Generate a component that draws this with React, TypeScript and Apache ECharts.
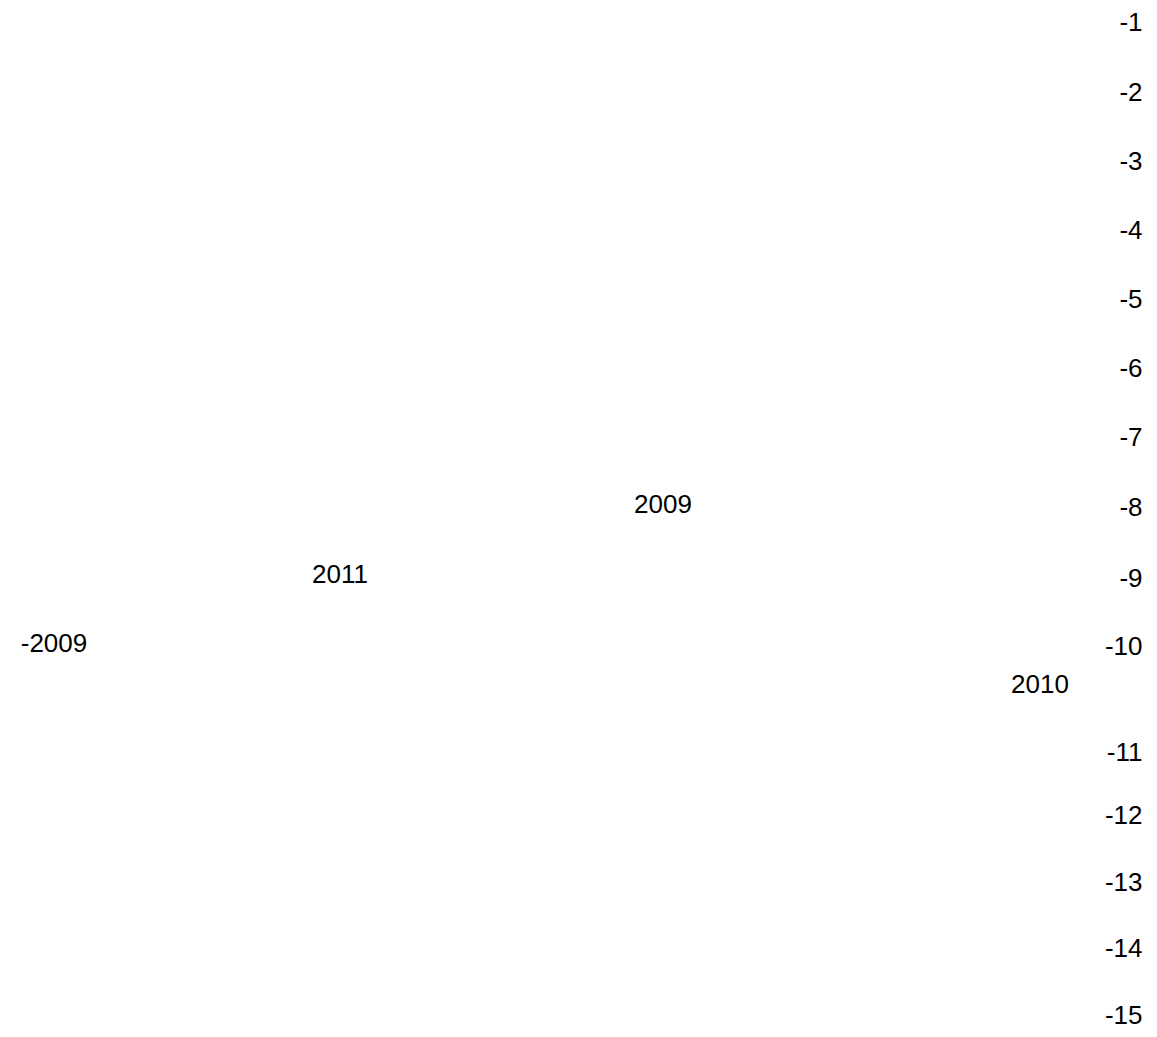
import React, { useEffect, useRef } from "react";
import * as echarts from "echarts";

// Right-hand column of labels
const rankLabels = ["-1", "-2", "-3", "-4", "-5", "-6", "-7", "-8", "-9", "-10", "-11", "-12", "-13", "-14", "-15"];
const rankY = [22, 92, 161, 230, 299, 368, 437, 507, 578, 646, 752, 815, 882, 948, 1015];
const rankX = 1143;

// Year labels scattered in the plot
const yearLabels = ["2009", "2011", "-2009", "2010"];
const yearX = [663, 340, 54, 1040];
const yearY = [504, 574, 643, 684];

const FONT = "Liberation Sans, Arial, sans-serif";
const FONT_SIZE = 26;

export default function App() {
  const ref = useRef<HTMLDivElement>(null);
  useEffect(() => {
    document.body.style.margin = "0";
    if (!ref.current) return;
    const chart = echarts.init(ref.current, undefined, { renderer: "svg" });
    const labelStyle = {
      show: true,
      color: "#000000",
      opacity: 1,
      fontFamily: FONT,
      fontSize: FONT_SIZE,
      formatter: (p: any) => p.name,
    };
    chart.setOption({
      animation: false,
      backgroundColor: "#ffffff",
      grid: { left: 0, right: 0, top: 0, bottom: 0, containLabel: false },
      xAxis: { type: "value", min: 0, max: 1157, show: false },
      yAxis: { type: "value", min: 0, max: 1037, inverse: true, show: false },
      series: [
        {
          type: "scatter",
          symbol: "circle",
          symbolSize: 1,
          itemStyle: { color: "rgba(255,255,255,0)" },
          data: rankLabels.map((l, i) => ({ value: [rankX, rankY[i]], name: l })),
          label: { ...labelStyle, position: "left", distance: 0 },
          silent: true,
        },
        {
          type: "scatter",
          symbol: "circle",
          symbolSize: 1,
          itemStyle: { color: "rgba(255,255,255,0)" },
          data: yearLabels.map((l, i) => ({ value: [yearX[i], yearY[i]], name: l })),
          label: { ...labelStyle, position: "inside" },
          silent: true,
        },
      ],
    });
    return () => chart.dispose();
  }, []);
  return <div ref={ref} style={{ width: 1157, height: 1037 }} />;
}
